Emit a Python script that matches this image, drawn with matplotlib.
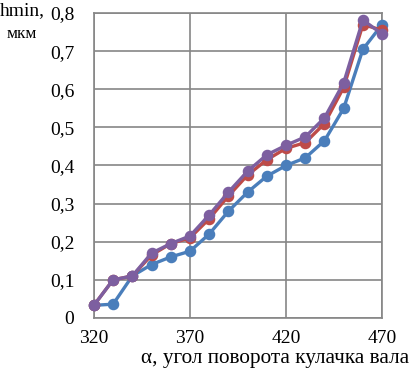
import numpy as np
import matplotlib.pyplot as plt

plt.rcParams['font.family'] = ['Liberation Serif', 'DejaVu Serif']

# angle values and hmin series
alpha = [320, 330, 340, 350, 360, 370, 380, 390, 400, 410, 420, 430, 440, 450, 460, 470]
h_blue = [0.033, 0.036, 0.11, 0.14, 0.16, 0.175, 0.22, 0.28, 0.33, 0.372, 0.40, 0.42, 0.465, 0.55, 0.705, 0.77]
h_red = [0.033, 0.10, 0.11, 0.165, 0.195, 0.21, 0.26, 0.32, 0.375, 0.415, 0.445, 0.46, 0.51, 0.605, 0.77, 0.755]
h_purple = [0.033, 0.10, 0.11, 0.17, 0.195, 0.215, 0.27, 0.33, 0.385, 0.428, 0.453, 0.475, 0.525, 0.617, 0.782, 0.745]

xticks = [320, 370, 420, 470]
yticks = [0, 0.1, 0.2, 0.3, 0.4, 0.5, 0.6, 0.7, 0.8]

fig = plt.figure(figsize=(4.1, 3.74), dpi=100)
ax = fig.add_axes([0.229, 0.150, 0.703, 0.815])

for y, c in [(h_blue, '#4A7EBB'), (h_red, '#BE4B48'), (h_purple, '#7D5FA0')]:
    ax.plot(alpha, y, color=c, lw=2.4, marker='o', ms=7.3, clip_on=False, zorder=3)

ax.set_xlim(320, 470)
ax.set_ylim(0, 0.8)
ax.set_xticks(xticks)
ax.set_yticks(yticks)
ax.set_yticklabels([('%g' % v).replace('.', ',') for v in yticks])
ax.grid(True, color='#868686', lw=1.2)
ax.set_axisbelow(True)
for s in ax.spines.values():
    s.set_color('#868686')
    s.set_linewidth(1.2)
ax.tick_params(length=0, labelsize=14)
ax.tick_params(axis='y', pad=14)
ax.tick_params(axis='x', pad=9)

fig.text(0.0, 0.972, 'hmin,', fontsize=14, ha='left', va='center')
fig.text(0.017, 0.91, 'мкм', fontsize=12.5, ha='left', va='center')
fig.text(0.998, 0.015, 'α, угол поворота кулачка вала', fontsize=15.3, ha='right', va='bottom')

fig.savefig('out.png')
